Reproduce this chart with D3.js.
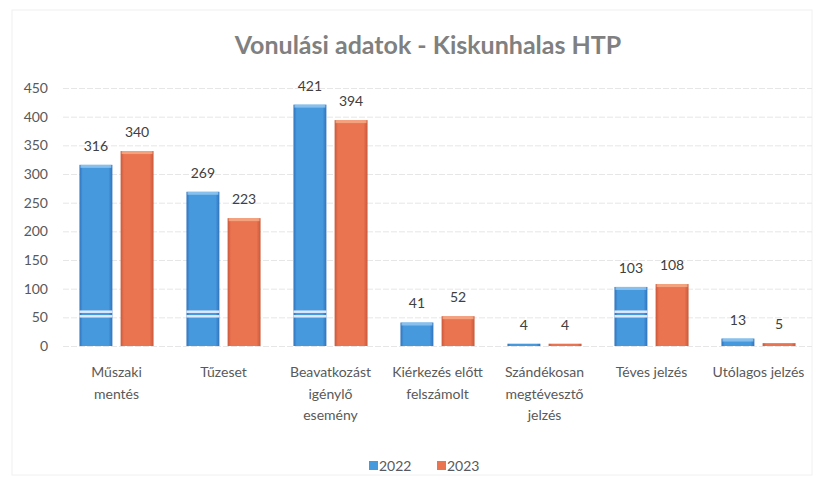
<!DOCTYPE html>
<html>
<head>
<meta charset="utf-8">
<script src="https://cdn.jsdelivr.net/npm/d3@7"></script>
<style>
  body { margin: 0; background: #fff; }
  svg text { font-family: Lato, "Open Sans", sans-serif; }
</style>
</head>
<body>
<div id="chart"></div>
<script>
var categories = [
  ["Műszaki", "mentés"],
  ["Tűzeset"],
  ["Beavatkozást", "igénylő", "esemény"],
  ["Kiérkezés előtt", "felszámolt"],
  ["Szándékosan", "megtévesztő", "jelzés"],
  ["Téves jelzés"],
  ["Utólagos jelzés"]
];
var seriesNames = ["2022", "2023"];
var values2022 = [316, 269, 421, 41, 4, 103, 13];
var values2023 = [340, 223, 394, 52, 4, 108, 5];
var yTicks = [0, 50, 100, 150, 200, 250, 300, 350, 400, 450];
var titleText = "Vonulási adatok - Kiskunhalas HTP";

var width = 816, height = 480;
var plotLeft = 63, plotRight = 812, plotTop = 88, plotBottom = 346;
var colors = ["#4799de", "#ea7350"];
var dark = ["#2f73bd", "#c8583a"];
var light = ["#9ccdf3", "#f7b08c"];

var svg = d3.select('#chart').append("svg")
  .attr("width", width).attr("height", height);

var defs = svg.append("defs");
seriesNames.forEach(function(s, i){
  var g = defs.append("linearGradient").attr("id", "grad"+i)
    .attr("x1", 0).attr("x2", 1).attr("y1", 0).attr("y2", 0);
  g.append("stop").attr("offset", "0%").attr("stop-color", dark[i]);
  g.append("stop").attr("offset", "10%").attr("stop-color", colors[i]);
  g.append("stop").attr("offset", "88%").attr("stop-color", colors[i]);
  g.append("stop").attr("offset", "100%").attr("stop-color", dark[i]);
});

// faint frame from the scan
svg.append("rect").attr("x", 12).attr("y", 10)
  .attr("width", 800).attr("height", 465)
  .attr("fill", "none").attr("stroke", "#f0f0f0");

svg.append("text")
  .attr("x", 428).attr("y", 54)
  .attr("text-anchor", "middle")
  .attr("font-size", 25).attr("font-weight", "bold")
  .attr("fill", "#808080")
  .text(titleText);

var x0 = d3.scaleBand().domain(d3.range(categories.length))
  .range([plotLeft, plotRight]).padding(0);
var x1 = d3.scaleBand().domain(seriesNames)
  .range([0, x0.bandwidth()]).paddingInner(0.2).paddingOuter(0.4);
var y = d3.scaleLinear().domain([0, 450]).range([plotBottom, plotTop]);

// gridlines
svg.append("g").selectAll("line").data(yTicks).enter().append("line")
  .attr("x1", plotLeft).attr("x2", plotRight)
  .attr("y1", function(d){ return y(d) + 0.5; })
  .attr("y2", function(d){ return y(d) + 0.5; })
  .attr("stroke", "#e6e6e6").attr("stroke-width", 1)
  .attr("stroke-dasharray", "6,2");

var yAxis = svg.append("g")
  .attr("transform", "translate(" + (plotLeft - 15) + ",0)")
  .call(d3.axisLeft(y).tickValues(yTicks).tickSize(0).tickPadding(0));
yAxis.select(".domain").remove();
yAxis.selectAll("text").attr("font-size", 14).attr("fill", "#595959")
  .attr("font-family", "Lato, sans-serif");

var series = [values2022, values2023];
series.forEach(function(vals, si){
  var g = svg.append("g");
  vals.forEach(function(v, ci){
    var bx = x0(ci) + x1(seriesNames[si]);
    var bw = x1.bandwidth();
    var h = Math.max(plotBottom - y(v), 1);
    g.append("rect")
      .attr("x", bx).attr("y", plotBottom - h)
      .attr("width", bw).attr("height", h)
      .attr("fill", "url(#grad" + si + ")");
    // bevelled top highlight
    if(h > 6){
      g.append("rect")
        .attr("x", bx + 1).attr("y", plotBottom - h)
        .attr("width", bw - 2).attr("height", 3)
        .attr("fill", light[si]).attr("opacity", 0.75);
    }
    // scan stripes on the blue bars
    if(si === 0 && v > 80){
      [58, 50].forEach(function(sv){
        g.append("rect")
          .attr("x", bx).attr("y", y(sv + 4))
          .attr("width", bw).attr("height", 2.5)
          .attr("fill", "#eef2ff").attr("opacity", 0.9);
      });
    }
    svg.append("text")
      .attr("x", bx + bw / 2)
      .attr("y", plotBottom - h - 14)
      .attr("text-anchor", "middle")
      .attr("font-size", 14).attr("fill", "#404040")
      .text(v);
  });
});

// category labels
categories.forEach(function(lines, ci){
  var t = svg.append("text")
    .attr("x", x0(ci) + x0.bandwidth() / 2)
    .attr("y", 377)
    .attr("text-anchor", "middle")
    .attr("font-size", 14).attr("fill", "#595959");
  lines.forEach(function(l, li){
    t.append("tspan")
      .attr("x", x0(ci) + x0.bandwidth() / 2)
      .attr("dy", li === 0 ? 0 : 21.5)
      .text(l);
  });
});

// legend
var legendX = [369, 437];
seriesNames.forEach(function(s, i){
  svg.append("rect")
    .attr("x", legendX[i]).attr("y", 461)
    .attr("width", 9).attr("height", 9)
    .attr("fill", colors[i]);
  svg.append("text")
    .attr("x", legendX[i] + 10).attr("y", 471)
    .attr("font-size", 14).attr("fill", "#595959")
    .text(s);
});
</script>
</body>
</html>
